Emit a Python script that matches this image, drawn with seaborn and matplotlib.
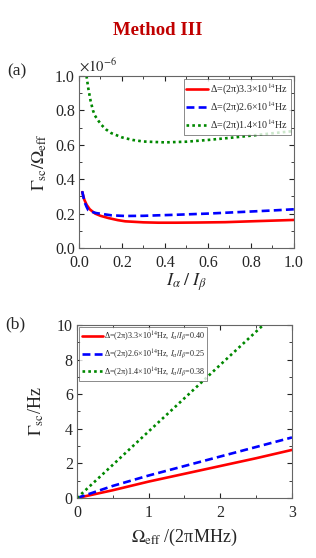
import matplotlib
matplotlib.use("Agg")
import matplotlib.pyplot as plt
import seaborn as sns
import pandas as pd
from matplotlib.ticker import MultipleLocator, FormatStrFormatter

sns.set_theme(style="ticks")
plt.rcParams['font.family'] = ['Liberation Serif', 'DejaVu Serif']
plt.rcParams['mathtext.fontset'] = 'stix'

# ---------------- data: panel (a) ----------------
ratio_red = [0.015, 0.025, 0.036, 0.05, 0.075, 0.10, 0.137, 0.18, 0.215, 0.30, 0.37, 0.45, 0.55, 0.68, 0.80, 0.90, 1.0]
gamma_red = [0.325, 0.28, 0.25, 0.225, 0.20, 0.187, 0.174, 0.162, 0.155, 0.149, 0.147, 0.147, 0.148, 0.150, 0.155, 0.159, 0.163]

ratio_blue = [0.015, 0.025, 0.035, 0.043, 0.06, 0.08, 0.106, 0.15, 0.215, 0.30, 0.37, 0.45, 0.60, 0.70, 0.80, 0.90, 1.0]
gamma_blue = [0.33, 0.27, 0.24, 0.22, 0.21, 0.203, 0.198, 0.19, 0.186, 0.187, 0.19, 0.193, 0.20, 0.206, 0.212, 0.218, 0.225]

ratio_green = [0.035, 0.043, 0.054, 0.065, 0.074, 0.09, 0.105, 0.125, 0.15, 0.20, 0.25, 0.30, 0.40, 0.50, 0.60, 0.70, 0.80, 0.90, 1.0]
gamma_green = [1.0, 0.93, 0.855, 0.80, 0.77, 0.74, 0.715, 0.69, 0.668, 0.643, 0.628, 0.619, 0.614, 0.618, 0.628, 0.64, 0.653, 0.667, 0.68]

labels_a = ['Δ=(2π)3.3×10$^{14}$Hz', 'Δ=(2π)2.6×10$^{14}$Hz', 'Δ=(2π)1.4×10$^{14}$Hz']

# ---------------- data: panel (b) ----------------
omega = [0.0, 0.5, 1.0, 1.5, 2.0, 2.5, 3.0]
rate_red = [0.0, 0.45, 0.95, 1.40, 1.85, 2.30, 2.78]
rate_blue = [0.0, 0.70, 1.30, 1.85, 2.40, 2.95, 3.50]
rate_green = [0.0, 1.92, 3.85, 5.77, 7.70, 9.62, 11.55]

labels_b = ['Δ=(2π)3.3×10$^{14}$Hz, $I_\\alpha/I_\\beta$=0.40',
            'Δ=(2π)2.6×10$^{14}$Hz, $I_\\alpha/I_\\beta$=0.25',
            'Δ=(2π)1.4×10$^{14}$Hz, $I_\\alpha/I_\\beta$=0.38']

colors = ['#ff0000', '#0000ff', '#008800']
styles = ['-', (0, (3.0, 1.6)), (0, (1, 1.2))]

fig = plt.figure(figsize=(3.16, 5.58), dpi=100)
fig.patch.set_facecolor('white')

fig.text(0.5, 0.945, 'Method III', ha='center', va='center', fontsize=13.5,
         fontweight='bold', color='#c00000')

# ---------------- panel (a) ----------------
ax1 = fig.add_axes([0.25, 0.5556, 0.68, 0.3082])
series_a = [(ratio_red, gamma_red), (ratio_blue, gamma_blue), (ratio_green, gamma_green)]
for (xv, yv), c, ls, lab in zip(series_a, colors, styles, labels_a):
    df = pd.DataFrame({'x': xv, 'y': yv})
    sns.lineplot(data=df, x='x', y='y', ax=ax1, color=c, linestyle=ls, lw=1.9,
                 label=lab, sort=False, estimator=None)
ax1.set_xlim(0, 1.0)
ax1.set_ylim(0, 1.0)
ax1.xaxis.set_major_locator(MultipleLocator(0.2))
ax1.xaxis.set_minor_locator(MultipleLocator(0.1))
ax1.yaxis.set_major_locator(MultipleLocator(0.2))
ax1.yaxis.set_minor_locator(MultipleLocator(0.1))
ax1.xaxis.set_major_formatter(FormatStrFormatter('%.1f'))
ax1.yaxis.set_major_formatter(FormatStrFormatter('%.1f'))
ax1.set_xlabel(r'$I_\alpha\;/\;I_\beta$', fontsize=13, labelpad=0)
ax1.set_ylabel(r'$\Gamma_{\rm sc}/\Omega_{\rm eff}$', fontsize=13, labelpad=4)
ax1.text(0.0, 1.01, r'$\times10^{-6}$', transform=ax1.transAxes, fontsize=10.5,
         ha='left', va='bottom')
leg1 = ax1.legend(loc='upper right', fontsize=7.2, frameon=True, fancybox=False,
                  borderaxespad=0.3, handlelength=2.2, handletextpad=0.2,
                  borderpad=0.25, labelspacing=0.3)
leg1.get_frame().set_edgecolor('#555555')
leg1.get_frame().set_linewidth(0.6)
fig.text(0.022, 0.872, '(a)', fontsize=12.5, ha='left', va='center')

# ---------------- panel (b) ----------------
ax2 = fig.add_axes([0.2437, 0.1075, 0.6803, 0.3101])
series_b = [rate_red, rate_blue, rate_green]
for yv, c, ls, lab in zip(series_b, colors, styles, labels_b):
    df = pd.DataFrame({'x': omega, 'y': yv})
    sns.lineplot(data=df, x='x', y='y', ax=ax2, color=c, linestyle=ls, lw=1.9,
                 label=lab, sort=False, estimator=None)
ax2.set_xlim(0, 3)
ax2.set_ylim(0, 10)
ax2.xaxis.set_major_locator(MultipleLocator(1))
ax2.xaxis.set_minor_locator(MultipleLocator(0.5))
ax2.yaxis.set_major_locator(MultipleLocator(2))
ax2.yaxis.set_minor_locator(MultipleLocator(1))
ax2.set_xlabel(r'$\Omega_{\rm eff}$ /(2πMHz)', fontsize=13, labelpad=4)
ax2.set_ylabel(r'$\Gamma_{\rm sc}$/Hz', fontsize=13, labelpad=8)
leg2 = ax2.legend(loc='upper left', fontsize=5.9, frameon=True, fancybox=False,
                  borderaxespad=0.3, handlelength=2.6, handletextpad=0.2,
                  borderpad=0.25, labelspacing=0.45)
leg2.get_frame().set_edgecolor('#555555')
leg2.get_frame().set_linewidth(0.6)
fig.text(0.018, 0.418, '(b)', fontsize=12.5, ha='left', va='center')

for ax in (ax1, ax2):
    for sp in ax.spines.values():
        sp.set_visible(True)
        sp.set_color('#666666')
        sp.set_linewidth(0.8)
    ax.tick_params(which='both', direction='in', top=True, right=True,
                   labelsize=11.5, color='#222222')
    ax.tick_params(which='major', length=3.5, width=0.8)
    ax.tick_params(which='minor', length=2, width=0.6)
    ax.tick_params(axis='y', pad=3)
    ax.tick_params(axis='x', pad=5)
    ax.set_facecolor('white')

fig.savefig('out.png', dpi=100, facecolor='white')
